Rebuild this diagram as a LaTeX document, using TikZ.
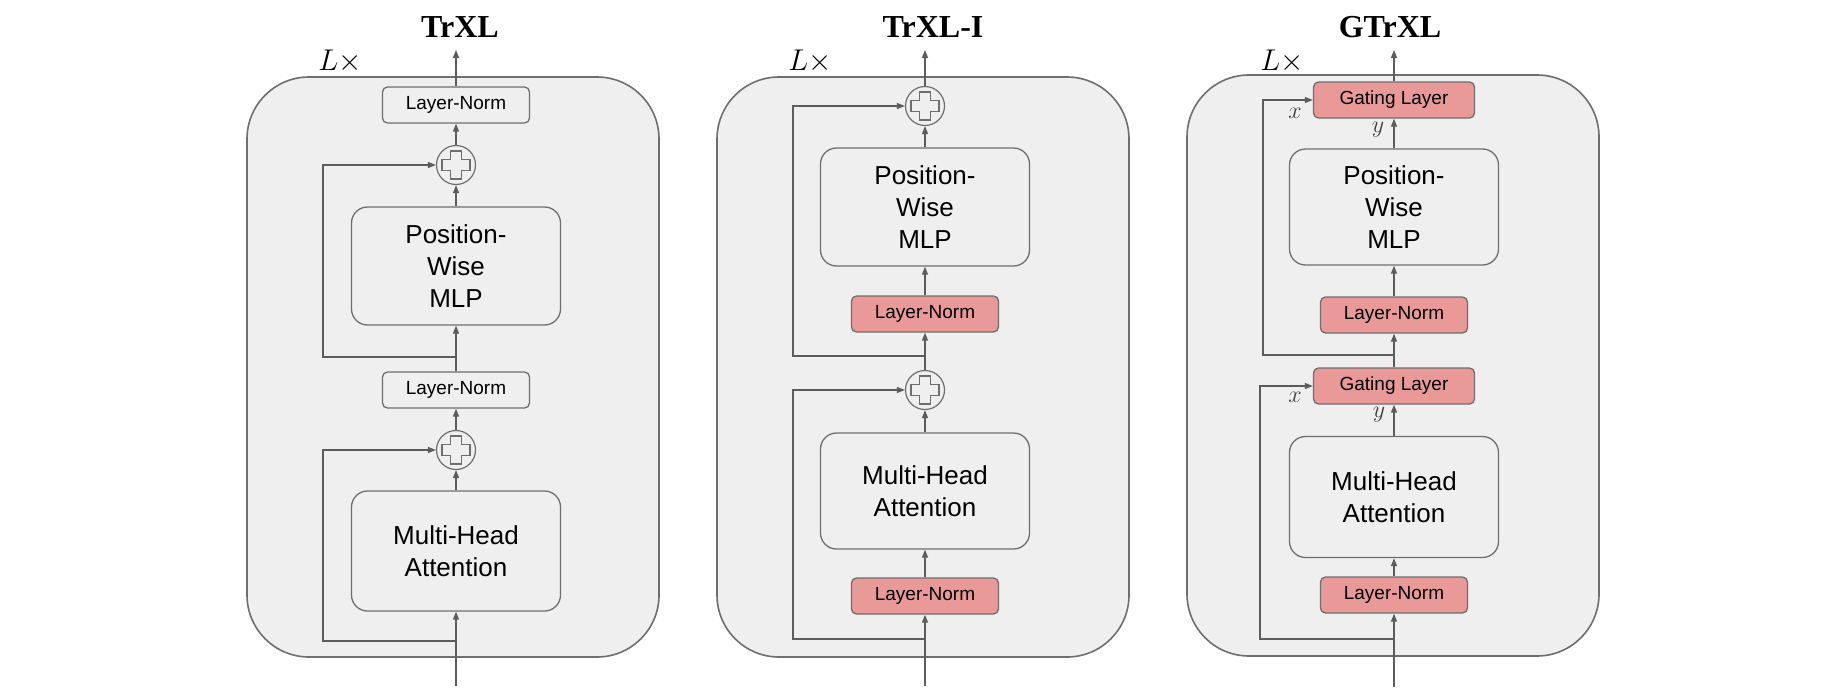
\documentclass[tikz,border=0pt]{standalone}
\usepackage{fix-cm}
\usepackage{fontspec}
\setmainfont{Liberation Sans}
\newfontfamily\titlefont{Liberation Serif}
\usetikzlibrary{arrows.meta}

\definecolor{panelgray}{HTML}{EFEFEF}
\definecolor{edgegray}{HTML}{6E6E6E}
\definecolor{linegray}{HTML}{5C5C5C}
\definecolor{normred}{HTML}{EA9999}

\tikzset{
  panel/.style={draw=edgegray, fill=panelgray, line width=1.6pt, rounded corners=62pt},
  bigbox/.style={draw=edgegray, fill=panelgray, line width=1.3pt, rounded corners=16pt,
    minimum width=209pt, minimum height=118pt, inner sep=0pt, align=center,
    font=\fontsize{26}{32}\selectfont},
  normbox/.style={draw=edgegray, fill=panelgray, line width=1.3pt, rounded corners=5pt,
    minimum width=147pt, minimum height=36pt, inner sep=0pt, font=\fontsize{19}{23}\selectfont},
  rednorm/.style={normbox, fill=normred},
  gatebox/.style={rednorm, minimum width=161pt},
  addnode/.style={circle, draw=edgegray, fill=panelgray, line width=1.2pt, minimum size=39pt, inner sep=0pt,
    path picture={\draw[edgegray, line width=1.1pt, shift={(path picture bounding box.center)}]
      (-5.5,-14) -- (5.5,-14) -- (5.5,-5.5) -- (14,-5.5) -- (14,5.5) -- (5.5,5.5) -- (5.5,14)
      -- (-5.5,14) -- (-5.5,5.5) -- (-14,5.5) -- (-14,-5.5) -- (-5.5,-5.5) -- cycle;}},
  conn/.style={draw=linegray, line width=1.3pt, -{Triangle[length=8pt,width=6pt]}},
  title/.style={font=\titlefont\bfseries\fontsize{32}{38}\selectfont, anchor=base},
  reps/.style={font=\fontsize{30}{36}\selectfont, anchor=base},
  gatein/.style={font=\fontsize{24}{28}\selectfont, text=black!75}
}

\begin{document}
\begin{tikzpicture}[x=1pt,y=-1pt]
\useasboundingbox[fill=white] (0,0) rectangle (1824,696);

\draw[panel] (247,77) rectangle (659,657);
\draw[panel] (717,77) rectangle (1129,657);
\draw[panel] (1187,75) rectangle (1599,656);

\foreach \name/\xt/\xl [count=\i] in {TrXL/460/340, TrXL-I/933/810, GTrXL/1390/1282}{
	\node[title] (title\i) at (\xt,37) {\name};
	\node[reps] (reps\i) at (\xl,70) {$L\times$};}

% TrXL
\node[normbox] (lnTopA) at (456,105) {Layer-Norm};
\node[addnode] (addTopA) at (456,165) {};
\node[bigbox] (mlpA) at (456,266) {Position-\\Wise\\MLP};
\node[normbox] (lnMidA) at (456,390) {Layer-Norm};
\node[addnode] (addBotA) at (456,450) {};
\node[bigbox, minimum height=120pt] (mhaA) at (456,551) {Multi-Head\\Attention};
\coordinate (inA) at (456,686);
\coordinate (outA) at (456,50);
\coordinate (brTopA) at (456,357);
\coordinate (brBotA) at (456,641);

\draw[conn] (inA) -- (mhaA);
\draw[conn] (mhaA) -- (addBotA);
\draw[conn] (addBotA) -- (lnMidA);
\draw[conn] (lnMidA) -- (mlpA);
\draw[conn] (mlpA) -- (addTopA);
\draw[conn] (addTopA) -- (lnTopA);
\draw[conn] (lnTopA) -- (outA);
\draw[conn] (brTopA) -- ++(-133,0) |- (addTopA);
\draw[conn] (brBotA) -- ++(-133,0) |- (addBotA);

% TrXL-I
\node[addnode] (addTopB) at (925,106) {};
\node[bigbox] (mlpB) at (925,207) {Position-\\Wise\\MLP};
\node[rednorm] (lnMidB) at (925,314) {Layer-Norm};
\node[addnode] (addBotB) at (925,390) {};
\node[bigbox, minimum height=116pt] (mhaB) at (925,491) {Multi-Head\\Attention};
\node[rednorm] (lnBotB) at (925,596) {Layer-Norm};
\coordinate (inB) at (925,686);
\coordinate (outB) at (925,50);
\coordinate (brTopB) at (925,356);
\coordinate (brBotB) at (925,639);

\draw[conn] (inB) -- (lnBotB);
\draw[conn] (lnBotB) -- (mhaB);
\draw[conn] (mhaB) -- (addBotB);
\draw[conn] (addBotB) -- (lnMidB);
\draw[conn] (lnMidB) -- (mlpB);
\draw[conn] (mlpB) -- (addTopB);
\draw[conn] (addTopB) -- (outB);
\draw[conn] (brTopB) -- ++(-132,0) |- (addTopB);
\draw[conn] (brBotB) -- ++(-132,0) |- (addBotB);

% GTrXL
\node[gatebox] (gateTopC) at (1394,100) {Gating Layer};
\node[bigbox, minimum height=116pt] (mlpC) at (1394,207) {Position-\\Wise\\MLP};
\node[rednorm] (lnMidC) at (1394,315) {Layer-Norm};
\node[gatebox] (gateBotC) at (1394,386) {Gating Layer};
\node[bigbox, minimum height=121pt] (mhaC) at (1394,497) {Multi-Head\\Attention};
\node[rednorm] (lnBotC) at (1394,595) {Layer-Norm};
\coordinate (inC) at (1394,687);
\coordinate (outC) at (1394,50);
\coordinate (brTopC) at (1394,355);
\coordinate (brBotC) at (1394,639);

\draw[conn] (inC) -- (lnBotC);
\draw[conn] (lnBotC) -- (mhaC);
\draw[conn] (mhaC) -- (gateBotC);
\draw[conn] (gateBotC) -- (lnMidC);
\draw[conn] (lnMidC) -- (mlpC);
\draw[conn] (mlpC) -- (gateTopC);
\draw[conn] (gateTopC) -- (outC);
\draw[conn] (brTopC) -- ++(-131,0) |- (gateTopC);
\draw[conn] (brBotC) -- ++(-134,0) |- (gateBotC);

\node[gatein] (xTopC) at (1295,113) {$x$};
\node[gatein] (yTopC) at (1378,130) {$y$};
\node[gatein] (xBotC) at (1295,397) {$x$};
\node[gatein] (yBotC) at (1379,415) {$y$};

\end{tikzpicture}
\end{document}
